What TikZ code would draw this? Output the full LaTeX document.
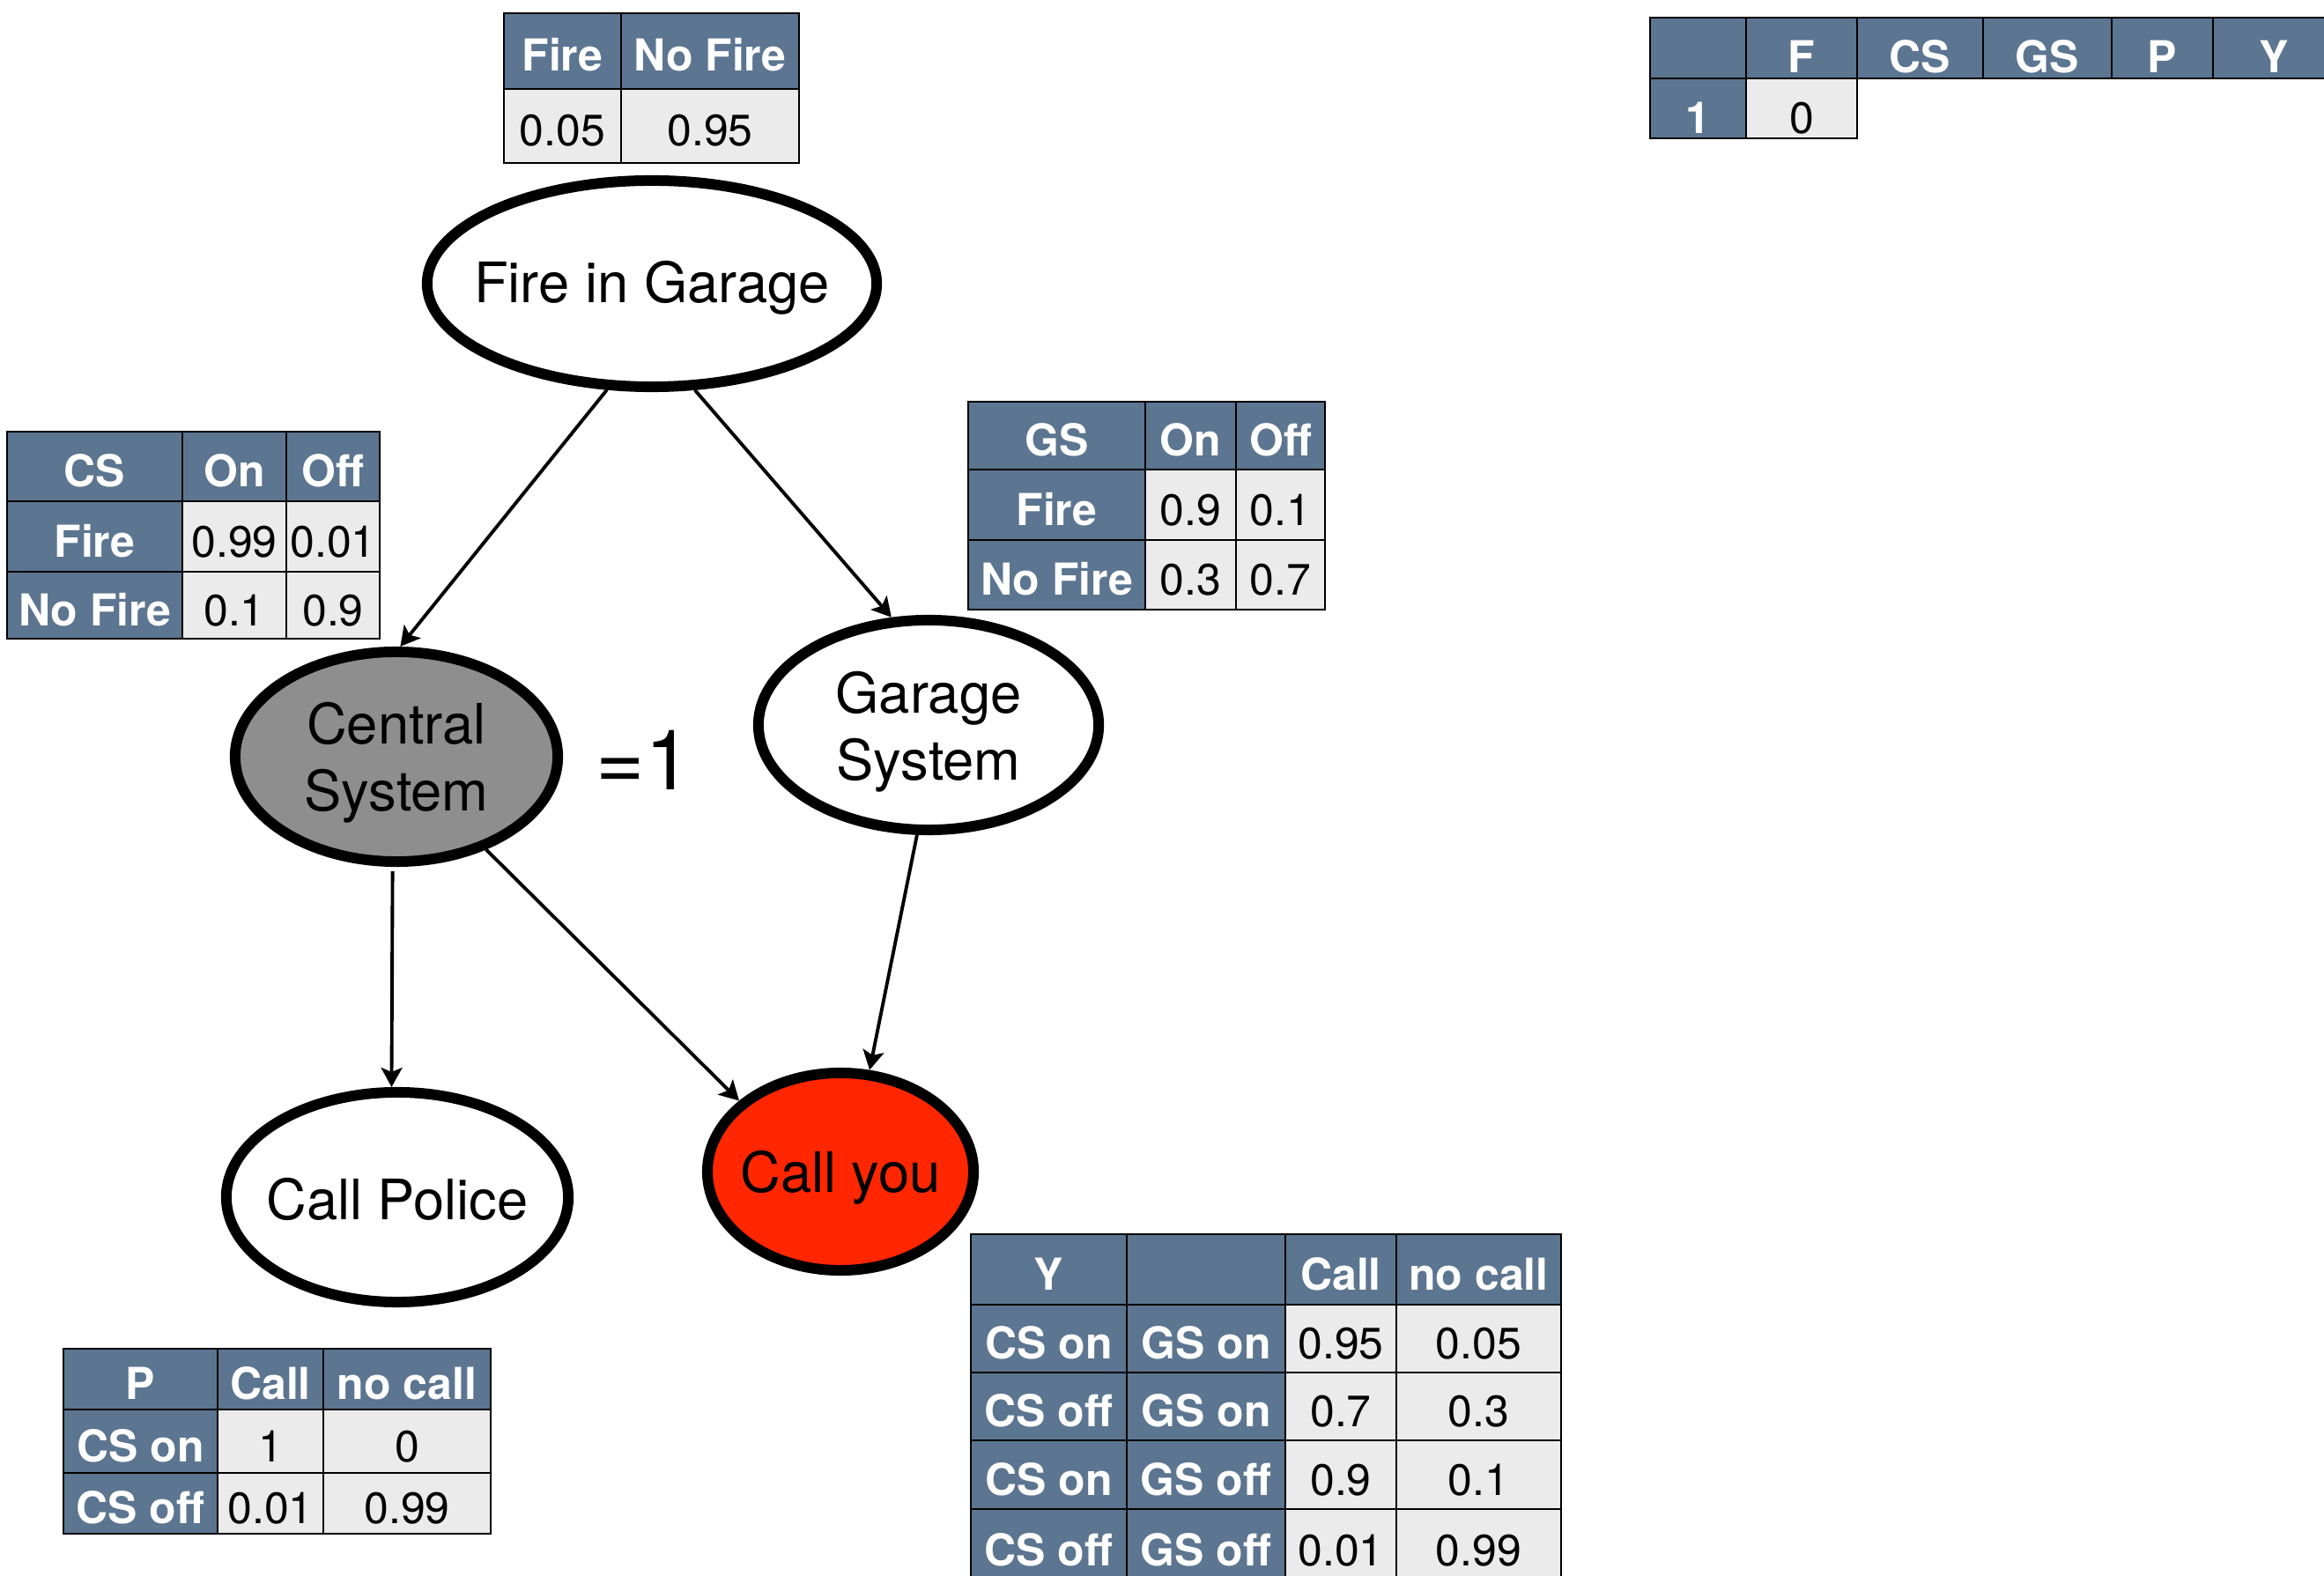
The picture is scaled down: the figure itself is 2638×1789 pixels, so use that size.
\documentclass[tikz,border=0pt]{standalone}
\usepackage{fontspec}
\setmainfont{TeX Gyre Heros}
\usetikzlibrary{shapes.geometric, arrows.meta}

\definecolor{hdrblue}{RGB}{92,117,144}
\definecolor{cellgray}{RGB}{235,235,235}
\definecolor{evgray}{RGB}{142,142,142}
\definecolor{callred}{RGB}{255,38,0}

% table cell: name, style, x1, y1, x2, y2, text (pixel units, y downwards)
\newcommand{\tcell}[7]{%
  \node[#2, minimum width={(#5-#3)*0.01cm}, minimum height={(#6-#4)*0.01cm},
        anchor=north west] (#1) at (#3,#4) {#7};}

\tikzset{
  cellbase/.style={draw=black, line width=0.7pt, inner sep=0pt, outer sep=0pt,
                   text height=0.46cm, text depth=0pt,
                   font=\fontsize{14.2}{17}\selectfont},
  hcell/.style={cellbase, fill=hdrblue, text=white,
                font=\bfseries\fontsize{14.2}{17}\selectfont},
  vcell/.style={cellbase, fill=cellgray, text=black},
  lowtext/.style={text height=0.56cm},
  bnode/.style={ellipse, draw=black, line width=0.12cm, inner sep=0pt, fill=white},
  ntext/.style={font=\fontsize{18}{21.6}\selectfont, align=center, inner sep=0pt},
  link/.style={line width=1.1pt, -{Stealth[length=0.22cm,width=0.24cm,inset=0.05cm]}},
}

\begin{document}
\begin{tikzpicture}[x=0.01cm, y=-0.01cm]
\useasboundingbox (0,0) rectangle (2638,1789);
\clip (0,0) rectangle (2638,1789);

% ---------- network nodes ----------
\node[bnode, minimum width=5.10cm, minimum height=2.34cm,
      label={[ntext, yshift=-0.05cm]center:Fire in Garage}] (fire) at (740,322) {};
\node[bnode, fill=evgray, minimum width=3.66cm, minimum height=2.38cm,
      label={[ntext, yshift=-0.07cm]center:{Central\\System}}] (central) at (450,859) {};
\node[bnode, minimum width=3.86cm, minimum height=2.38cm,
      label={[ntext, yshift=-0.08cm]center:{Garage\\System}}] (garage) at (1054,823) {};
\node[bnode, minimum width=3.88cm, minimum height=2.38cm,
      label={[ntext, yshift=-0.02cm]center:Call Police}] (police) at (451,1359) {};
\node[bnode, fill=callred, minimum width=3.02cm, minimum height=2.24cm,
      label={[ntext, yshift=-0.07cm]center:Call you}] (callyou) at (954,1330) {};

\node[font=\fontsize{27}{31}\selectfont, inner sep=0pt] (evidence) at (731,863) {=1};

% ---------- edges ----------
\draw[link] (fire.247) -- (central.88);
\draw[link] (fire.292) -- (garage.109);
\draw[link, shorten <=0.05cm] (central.268) -- (police.93);
\draw[link] (central.314) -- (callyou.145);
\draw[link] (garage.264) -- (callyou.74);

% ---------- prior of fire ----------
\tcell{pf}{hcell}{572}{15}{705}{101}{Fire}
\tcell{pnf}{hcell}{705}{15}{907}{101}{No Fire}
\tcell{pfv}{vcell}{572}{101}{705}{185}{0.05}
\tcell{pnfv}{vcell}{705}{101}{907}{185}{0.95}

% ---------- sample table ----------
\tcell{s0}{hcell,lowtext}{1873}{20}{1982}{89}{}
\tcell{sF}{hcell,lowtext}{1982}{20}{2108}{89}{F}
\tcell{sCS}{hcell,lowtext}{2108}{20}{2251}{89}{CS}
\tcell{sGS}{hcell,lowtext}{2251}{20}{2397}{89}{GS}
\tcell{sP}{hcell,lowtext}{2397}{20}{2512}{89}{P}
\tcell{sY}{hcell,lowtext}{2512}{20}{2650}{89}{Y}
\tcell{s1}{hcell,lowtext}{1873}{89}{1982}{157}{1}
\tcell{s1F}{vcell,lowtext}{1982}{89}{2108}{157}{0}

% ---------- CS table ----------
\tcell{cs00}{hcell}{8}{490}{207}{569}{CS}
\tcell{cs01}{hcell}{207}{490}{325}{569}{On}
\tcell{cs02}{hcell}{325}{490}{431}{569}{Off}
\tcell{cs10}{hcell}{8}{569}{207}{649}{Fire}
\tcell{cs11}{vcell}{207}{569}{325}{649}{0.99}
\tcell{cs12}{vcell}{325}{569}{431}{649}{0.01}
\tcell{cs20}{hcell}{8}{649}{207}{725}{No Fire}
\tcell{cs21}{vcell}{207}{649}{325}{725}{0.1}
\tcell{cs22}{vcell}{325}{649}{431}{725}{0.9}

% ---------- GS table ----------
\tcell{gs00}{hcell}{1099}{456}{1300}{533}{GS}
\tcell{gs01}{hcell}{1300}{456}{1403}{533}{On}
\tcell{gs02}{hcell}{1403}{456}{1504}{533}{Off}
\tcell{gs10}{hcell}{1099}{533}{1300}{613}{Fire}
\tcell{gs11}{vcell}{1300}{533}{1403}{613}{0.9}
\tcell{gs12}{vcell}{1403}{533}{1504}{613}{0.1}
\tcell{gs20}{hcell}{1099}{613}{1300}{692}{No Fire}
\tcell{gs21}{vcell}{1300}{613}{1403}{692}{0.3}
\tcell{gs22}{vcell}{1403}{613}{1504}{692}{0.7}

% ---------- P table ----------
\tcell{p00}{hcell}{72}{1531}{247}{1600}{P}
\tcell{p01}{hcell}{247}{1531}{367}{1600}{Call}
\tcell{p02}{hcell}{367}{1531}{557}{1600}{no call}
\tcell{p10}{hcell}{72}{1600}{247}{1672}{CS on}
\tcell{p11}{vcell}{247}{1600}{367}{1672}{1}
\tcell{p12}{vcell}{367}{1600}{557}{1672}{0}
\tcell{p20}{hcell}{72}{1672}{247}{1741}{CS off}
\tcell{p21}{vcell}{247}{1672}{367}{1741}{0.01}
\tcell{p22}{vcell}{367}{1672}{557}{1741}{0.99}

% ---------- Y table ----------
\tcell{y00}{hcell}{1102}{1401}{1279}{1481}{Y}
\tcell{y01}{hcell}{1279}{1401}{1459}{1481}{}
\tcell{y02}{hcell}{1459}{1401}{1585}{1481}{Call}
\tcell{y03}{hcell}{1585}{1401}{1772}{1481}{no call}
\tcell{y10}{hcell}{1102}{1481}{1279}{1558}{CS on}
\tcell{y11}{hcell}{1279}{1481}{1459}{1558}{GS on}
\tcell{y12}{vcell}{1459}{1481}{1585}{1558}{0.95}
\tcell{y13}{vcell}{1585}{1481}{1772}{1558}{0.05}
\tcell{y20}{hcell}{1102}{1558}{1279}{1635}{CS off}
\tcell{y21}{hcell}{1279}{1558}{1459}{1635}{GS on}
\tcell{y22}{vcell}{1459}{1558}{1585}{1635}{0.7}
\tcell{y23}{vcell}{1585}{1558}{1772}{1635}{0.3}
\tcell{y30}{hcell}{1102}{1635}{1279}{1713}{CS on}
\tcell{y31}{hcell}{1279}{1635}{1459}{1713}{GS off}
\tcell{y32}{vcell}{1459}{1635}{1585}{1713}{0.9}
\tcell{y33}{vcell}{1585}{1635}{1772}{1713}{0.1}
\tcell{y40}{hcell}{1102}{1713}{1279}{1795}{CS off}
\tcell{y41}{hcell}{1279}{1713}{1459}{1795}{GS off}
\tcell{y42}{vcell}{1459}{1713}{1585}{1795}{0.01}
\tcell{y43}{vcell}{1585}{1713}{1772}{1795}{0.99}
\end{tikzpicture}
\end{document}
